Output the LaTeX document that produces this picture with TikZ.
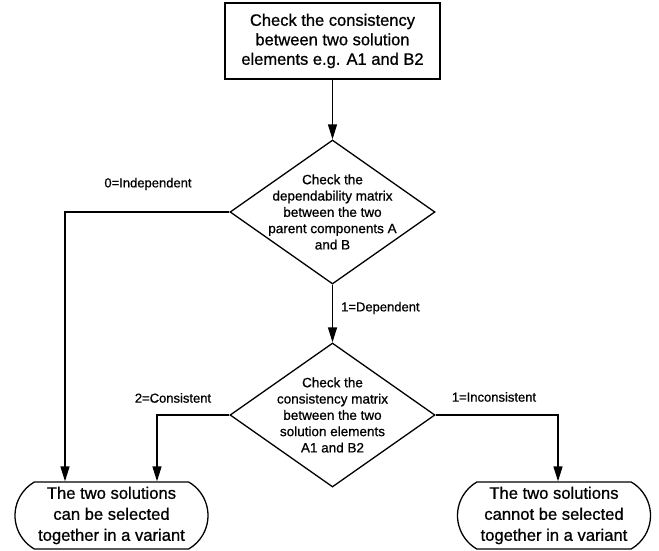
\documentclass[tikz,border=0pt]{standalone}
\usepackage{fontspec}
% slightly heavier strokes while keeping the regular glyph widths
\setmainfont{Liberation Sans}[AutoFakeBold=0.8]
\usetikzlibrary{shapes.geometric,shapes.misc,arrows.meta}

\tikzset{
  flow/.style={line width=1.3pt, draw=black},
  arrow/.style={flow, -{Triangle[length=15pt,width=9pt]}},
  process/.style={flow, rectangle, minimum width=215pt, minimum height=76pt,
    inner sep=0pt, align=center, font=\fontsize{16.5}{19.5}\selectfont\bfseries},
  decision/.style={flow, diamond, minimum width=205pt, minimum height=144pt,
    inner sep=0pt},
  dtext/.style={align=center, inner sep=0pt, font=\fontsize{13.5}{16.3}\selectfont\bfseries},
  terminal/.style={flow, rounded rectangle, rounded rectangle arc length=120,
    minimum width=193pt, minimum height=67pt, inner sep=0pt, align=center,
    font=\fontsize{16.6}{21}\selectfont\bfseries},
  edgelabel/.style={inner sep=0pt, font=\fontsize{13}{15}\selectfont\bfseries},
}

\begin{document}
\begin{tikzpicture}[x=1pt, y=-1pt]
  \useasboundingbox (0,0) rectangle (659,550);

  % boxes
  \node[process] (check) at (332.5,41)
    {Check the consistency\\between two solution\\elements e.g. A1 and B2};
  \node[decision, label={[dtext]center:Check the\\dependability matrix\\between the two\\parent components A\\and B}]
    (dep) at (332.5,212) {};
  \node[decision, label={[dtext]center:Check the\\consistency matrix\\between the two\\solution elements\\A1 and B2}]
    (cons) at (332.5,415) {};
  \node[terminal] (yes) at (111.5,515.5)
    {The two solutions\\can be selected\\together in a variant};
  \node[terminal] (no) at (554,515.5)
    {The two solutions\\cannot be selected\\together in a variant};

  % bends of the side branches
  \coordinate (indep) at (65,212);
  \coordinate (consist) at (157,415);
  \coordinate (incons) at (558,415);

  % connectors
  \draw[arrow] (check) -- (dep);
  \draw[arrow] (dep) -- (cons);
  \draw[arrow] (dep.west) -- (indep) -- (indep |- yes.north);
  \draw[arrow] (cons.west) -- (consist) -- (consist |- yes.north);
  \draw[arrow] (cons.east) -- (incons) -- (incons |- no.north);

  % branch labels
  \node[edgelabel] (l0) at (148,184) {0=Independent};
  \node[edgelabel, anchor=west] (l1) at (341,308) {1=Dependent};
  \node[edgelabel] (l2) at (173,398) {2=Consistent};
  \node[edgelabel] (l3) at (494,397) {1=Inconsistent};
\end{tikzpicture}
\end{document}
